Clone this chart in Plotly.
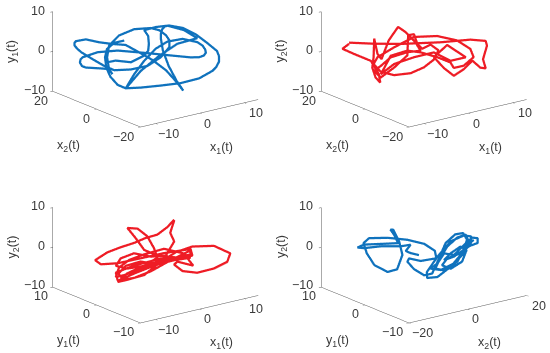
import plotly.graph_objects as go

# top left: x1, x2, y1
a_x1 = [-5.2, -6.7, -7.8, -8.1, -7.9, -7.3, -6.2, -5.0, -3.7, -0.7, 2.3, 5.1, 7.1, 7.7, 8.1, 7.1, 6.8, 5.3, 3.6, 1.6, -0.5, -1.1, -1.5, -1.7, -0.7,
        -0.4, 0.5, 1.7, 2.7, 2.8, 1.1, -1.0, -3.0, -5.0, -6.0, -8.0, -10.0, -11.5, -11.7, -11.7, -11.3, -10.7, -9.0, -7.2, -6.7, -4.2, -1.7,
        0.3, 1.6, 1.6, 1.1, 0.1, -0.2, -2.7, -5.0, -6.5, -6.8, -6.5, -6.0, -5.6, -6.7, -9.0, -9.6, -9.9, -9.8, -9.5, -7.2, -4.2, -1.2, 2.3, 5.8, 7.1, 7.8,
        8.1, 8.0, 7.6, 6.8, 4.6, 2.3, -0.5, -2.2, -3.7, -5.0, -2.7, 0.1, 2.8, 6.8, 4.8, 2.3, 0.6, -1.2, -0.6, -0.5, -0.6, -1.2, -3.2, -5.5, -6.5]
a_x2 = [4.0, 5.5, 6.6, 6.9, 6.7, 6.1, 5.0, 3.8, -0.5, -3.5, -6.5, -9.3, -11.3, -11.9, -12.3, -14.3, -14.0, -12.5, -10.8, -8.8, -6.8, -6.2, -5.8, -5.6,
        -3.6, -3.9, -4.7, -5.9, -6.9, -4.0, -2.3, -0.3, 1.8, 3.8, 7.8, 9.8, 11.8, 13.3, 13.5, 13.5, 13.1, 12.5, 10.8, 9.0, 5.5, 3.0, 0.5,
        -1.5, -2.8, -2.8, -2.3, -1.3, 2.0, 4.5, 6.8, 8.3, 8.6, 8.3, 7.8, 10.4, 11.5, 13.8, 14.4, 14.7, 14.6, 14.3, 12.0, 9.0, 3.0, -0.5, -4.0, -5.3, -6.0,
        -6.3, -6.2, -5.8, -5.0, -2.8, -0.5, -0.8, 1.0, 2.5, 3.8, 1.5, -1.3, -4.0, -5.0, -3.0, -0.5, 1.3, 3.0, 2.4, 2.3, 2.4, 3.0, 5.0, 7.3, 8.3]
a_y1 = [4.2, 3.7, 2.2, 0.1, -2.5, -4.8, -6.9, -7.8, -7.0, -6.6, -6.1, -5.0, -3.2, -2.2, -0.9, 1.2, 2.5, 4.6, 6.8, 8.5, 9.2, 9.0, 8.3, 7.2, 5.2, 2.2,
        -1.7, -5.5, -8.0, -6.7, -3.5, -0.8, 1.2, 3.1, 2.7, 3.2, 4.0, 3.6, 3.2, 2.5, 1.7, 0.8, -1.0, -2.8, -3.2, -3.1, -2.3, -0.2, 2.3, 4.0,
        5.3, 6.6, 6.5, 6.3, 4.8, 2.3, -0.6, -3.6, -4.9, -4.3, -4.1, -3.8, -3.4, -2.5, -1.7, -1.2, 0.0, 0.3, 0.3, -0.4, -1.1, -1.1, -0.7, 0.0, 0.8, 1.8, 2.7,
        3.6, 3.0, 2.0, -1.0, -4.3, -7.9, -3.5, 0.2, 3.1, 3.7, 5.8, 7.0, 6.7, 6.0, 4.5, 2.5, 0.8, -0.4, -2.0, -1.5, -1.8]

# top right: x1, x2, y2
b_x1 = [-10.8, -11.8, -10.0, -7.5, -6.3, -6.1, -6.8, -7.3, -7.1, -8.0, -7.5, -6.9, -5.8, -4.4, -3.3, -1.8, -1.0, -3.0, -5.5,
        -7.0, -9.0, -8.0, -6.0, -4.0, -3.9, -3.0, -2.5, -1.8, -0.5, 0.7, 1.0, -0.5, -2.5, -5.0, -7.0, -8.1, -7.5, -5.0, -2.0,
        1.5, 3.5, 5.5, 6.0, 4.5, 3.0, 2.5, 0.5, -2.0, -4.0, -6.5, -7.0, -5.0, -2.0, 1.0, 3.5, 5.8, 3.0, 1.0, 3.5, 5.0, 6.5,
        7.8, 9.0, 9.8, 9.4, 10.0, 9.8, 7.5, 3.0, -3.0, -7.0, -10.8]
b_x2 = [12.6, 13.6, 11.8, 9.3, 8.1, 7.9, 8.6, 9.1, 8.9, 6.8, 6.3, 5.7, 4.6, 3.2, 2.1, 0.6, -0.2, 1.8, 4.3, 5.8, 4.8, 3.8, 1.8,
        -0.2, -0.4, -1.2, -1.7, -2.5, -3.7, -4.9, -2.2, -0.7, 1.3, 3.8, 5.8, 6.9, 6.3, 3.8, 0.8, -2.7, -7.7, -9.7, -10.2, -8.7,
        -7.2, -6.7, -4.7, -2.2, -0.2, 2.3, 5.8, 3.8, 0.8, -2.2, -4.7, -7.0, -4.2, -2.2, -1.7, -3.2, -4.7, -6.0, -7.2, -8.0,
        -7.6, -8.2, -8.0, -5.7, -1.2, 4.8, 8.8, 12.6]
b_y2 = [2.9, 1.7, 0.3, -1.5, -4.9, -7.0, -5.7, -3.2, -0.6, 4.8, 0.9, -0.4, 4.3, 7.6, 6.3, 3.7, 1.5, 1.2, 0.0, -2.1, -2.6, -4.3,
        -1.9, 1.1, 6.2, 6.4, 4.0, 2.7, 3.7, 2.2, -0.8, -2.7, -4.1, -4.5, -3.6, -1.6, 0.1, 2.5, 5.0, 5.1, 4.6, 2.4, 0.3, -1.8,
        -2.3, -0.9, 0.5, 1.8, 2.3, 1.1, -4.2, -1.7, -0.1, 1.0, -1.2, -0.4, 2.8, -0.2, -3.7, -5.7, -4.1, -2.0, -3.8, -4.0, -1.7,
        1.7, 2.9, 3.3, 2.8, 2.6, 2.8, 3.2]

# bottom left: x1, y1, y2
c_x1 = [2.3, 1.3, -0.2, -2.0, -3.7, -5.7, -7.7, -8.6, -7.7, -5.2, -1.7, 1.8, 4.8, 5.1, 2.3, -1.7, -4.7, -6.2, -5.0, -2.2, -0.7,
        1.6, 4.1, 7.3, 9.8, 9.3, 7.3, 4.8, 2.6, 1.3, 2.8, 5.2, 4.3, 0.3, -3.7, -6.5, -6.2, -3.7, -1.2, 1.3, 5.6, 5.9, 3.8, 0.8,
        -1.2, -2.5, -3.7, -2.2, -0.7, 0.3, -0.2, -2.2, -4.7, -6.5, -5.7, -3.7, -1.2, 1.3,
        -1.2, -3.7, -5.5, -6.1, -5.0, -2.7, -0.2, 2.3, 4.8, 3.6, 0.8, -2.2, -4.5, -6.0, -6.5, -5.2, -2.2, 0.8,
        2.3, 1.7, 2.3]
c_y1 = [-1.8, -1.3, -0.5, 0.4, 1.3, 2.3, 3.3, 5.2, 4.8, 3.5, 1.8, 0.0, -3.0, -3.1, -1.8, 0.3, 1.8, 2.5, 1.9, 0.5, -1.8, -2.9, -4.1,
        -5.8, -7.0, -6.8, -5.8, -4.5, -3.4, -2.8, -2.0, -3.2, -2.8, -0.8, 1.3, 2.6, 2.5, 1.3, 0.0, -1.3, -1.9, -2.1, -1.0, 0.5,
        1.5, 2.1, 2.8, 2.0, 1.3, 0.8, -0.5, 0.5, 1.8, 2.6, 2.3, 1.3, 0.0, -1.3,
        0.0, 1.3, 2.1, 2.4, 1.9, 0.8, -0.5, -1.8, -3.0, -2.4, -1.0, 0.5, 1.6, 2.4, 2.6, 2.0, 0.5, -1.0,
        -1.8, -1.5, -1.8]
c_y2 = [8.2, 6.4, 4.5, 3.7, 2.5, 1.5, 0.3, -2.3, -3.4, -3.2, -2.1, -0.9, 0.7, -1.0, -1.6, -2.9, -5.1, -7.2, -6.8, -5.6, -1.6, 0.7,
        2.0, 2.1, 0.1, -2.0, -3.6, -4.6, -4.1, -2.4, -2.4, -3.5, -1.6, -1.5, -3.2, -4.8, -6.8, -6.3, -4.7, -2.4, -0.5, -1.3, -2.1,
        -1.5, 0.0, 3.0, 5.6, 5.4, 3.4, 0.4, -1.3, -3.3, -3.9, -3.1, -1.3, -0.1, -1.0, -0.8,
        -3.6, -5.2, -6.4, -5.1, -3.2, -2.2, -3.0, -2.0, -1.5, -0.3, 0.9, -0.4, -1.7, -3.6, -5.9, -5.5, -3.8, -1.5,
        2.7, 4.9, 8.0]

# bottom right: x2, y1, y2
d_x2 = [-1.7, -3.5, -4.7, -3.5, -5.8, -10.3, -14.1, -15.6, -14.1, -9.6, -6.4, -5.8, -6.6, -6.0, -4.7, -3.9, -5.1, -7.3, -10.3,
        -12.0, -12.8, -11.5, -8.8, -4.3, -0.5, 1.9, 2.3, -1.3, -3.9, -4.3, -4.3, -2.0, -0.2, 1.0, 2.9, 5.1, 6.9, 7.8, 6.7, 4.0,
        1.0, -1.3, -1.4, 1.0, 5.5, 8.5, 10.2, 10.1, 7.8, 4.8, 3.6, 5.5, 8.2, 9.1, 7.8, 5.5, 5.5, 7.8, 11.2, 13.2, 13.2, 11.9,
        10.1, 7.8, 5.5, 4.0, 2.5, 4.8, 7.8, 10.0, 11.2, 10.4, 8.5, 6.3, 4.4, 3.6, 5.5, 8.5, 10.4, 12.3]
d_y1 = [0.0, 0.7, 1.0, 0.7, 1.4, 2.9, 4.2, 4.7, 4.2, 2.7, 1.6, 2.9, 3.2, 3.0, 2.5, 2.3, 2.7, 3.4, 4.4, 5.0, 5.2, 4.8, 2.4, 0.9,
        -0.4, -1.2, -1.3, -0.1, 0.8, 0.9, -0.6, -1.4, -2.0, -2.4, -3.0, -3.7, -4.3, -4.6, -4.2, -3.4, -2.4, -1.6, -1.6, -2.4,
        -2.4, -3.4, -3.9, -3.9, -3.1, -2.1, -1.7, -2.4, -3.2, -3.6, -3.1, -2.4, -0.9, -1.6, -2.7, -3.4, -3.4, -3.0, -2.4, -1.6,
        -0.9, -0.4, 0.2, -0.6, -1.6, -2.4, -2.7, -2.5, -1.9, -1.1, -0.5, -0.2, -0.9, -1.9, -2.5, -3.1]
d_y2 = [-0.6, -0.1, 0.5, 2.0, 1.7, 1.8, 1.4, 1.6, 2.3, 2.4, 2.5, 3.9, 5.2, 5.2, 2.2, -1.2, -4.8, -5.4, -3.6, -0.6, 2.0, 3.2, 3.9,
        3.3, 2.2, 0.4, -1.5, -2.1, -1.4, -2.2, -3.4, -5.0, -4.6, -1.7, 3.0, 5.1, 5.4, 3.7, 0.3, -3.0, -5.5, -5.7, -4.2, -0.4, 2.7,
        4.1, 3.8, 1.7, -0.4, -1.6, -3.3, -4.2, -2.5, 0.4, 1.3, -0.3, -2.7, -1.9, 0.6, 1.4, 2.6, 2.8, 1.0, -1.5, -1.0, -3.5, -4.8,
        -5.2, -3.6, -1.1, 1.8, 3.6, 2.9, 0.7, -2.7, -4.8, -5.3, -3.2, 0.6, 2.2]

blue = "#0f72bd"
red = "#ee1c25"
grey = "#555555"
txt = "#3a3a3a"

# camera direction, taken from the axis slopes
view = (-0.574, -0.758, 0.309)
dist = 2.0
right = (0.797, -0.604)
px_per_unit = 88.8


def axis(rng, vals):
    return dict(range=rng, tickvals=vals, ticktext=["" for v in vals], title=dict(text=""),
                showgrid=False, zeroline=False, showbackground=False, showspikes=False,
                showline=True, linecolor=grey, linewidth=1, ticks="outside", ticklen=3,
                tickcolor=grey, showticklabels=False)


def label(x, y, z, text, dx, dy, anchor="center", angle=0):
    return dict(x=x, y=y, z=z, text=text, showarrow=False, xshift=dx, yshift=dy, xanchor=anchor, yanchor="middle",
                textangle=angle, font=dict(family="Liberation Sans", size=12.5, color=txt))


def fmt(v):
    return str(v).replace("-", "\u2212")


panels = [
    dict(xs=a_x1, ys=a_x2, zs=a_y1, color=blue, xr=[-13.4, 13.1], yr=[-20, 20], xt=[-10, 0, 10], yt=[-20, 0, 20],
         xl="x<sub>1</sub>(t)", yl="x<sub>2</sub>(t)", zl="y<sub>1</sub>(t)", dom=([0, 0.5], [0.5, 1]), sx=18, sy=33),
    dict(xs=b_x1, ys=b_x2, zs=b_y2, color=red, xr=[-13.4, 13.1], yr=[-20, 20], xt=[-10, 0, 10], yt=[-20, 0, 20],
         xl="x<sub>1</sub>(t)", yl="x<sub>2</sub>(t)", zl="y<sub>2</sub>(t)", dom=([0.5, 1], [0.5, 1]), sx=11.5, sy=33),
    dict(xs=c_x1, ys=c_y1, zs=c_y2, color=red, xr=[-13.4, 13.1], yr=[-10, 10], xt=[-10, 0, 10], yt=[-10, 0, 10],
         xl="x<sub>1</sub>(t)", yl="y<sub>1</sub>(t)", zl="y<sub>2</sub>(t)", dom=([0, 0.5], [0, 0.5]), sx=18, sy=14),
    dict(xs=d_x2, ys=d_y1, zs=d_y2, color=blue, xr=[-20, 20], yr=[-10, 10], xt=[-20, 0, 20], yt=[-10, 0, 10],
         xl="x<sub>2</sub>(t)", yl="y<sub>1</sub>(t)", zl="y<sub>2</sub>(t)", dom=([0.5, 1], [0, 0.5]), sx=11.5, sy=14),
]

fig = go.Figure()
for i, p in enumerate(panels):
    name = "scene" if i == 0 else f"scene{i + 1}"
    fig.add_trace(go.Scatter3d(x=p["xs"], y=p["ys"], z=p["zs"], mode="lines", line=dict(color=p["color"], width=4.5),
                               scene=name, showlegend=False, hoverinfo="skip"))
    xmin, xmax = p["xr"]
    ymin, ymax = p["yr"]
    notes = []
    for v, dx, dy in zip([-10, 0, 10], [-6, -6, -6], [1, 1, 1]):
        notes.append(label(xmin, ymax, v, fmt(v), dx, dy, anchor="right"))
    for v, dx in zip(p["yt"], [-17, -10, -12]):
        notes.append(label(xmin, v, -10, fmt(v), dx, -10))
    for v, dx in zip(p["xt"], [13, 8, 12]):
        notes.append(label(v, ymin, -10, fmt(v), dx, -11))
    notes.append(label(p["xt"][1], ymin, -10, p["xl"], 22, -35))
    notes.append(label(xmin, p["yt"][1], -10, p["yl"], -28, -37))
    notes.append(label(xmin, ymax, 0, p["zl"], -40, 0, angle=-90))
    # shift the view so the box sits where it does in the figure
    cx = -p["sx"] / px_per_unit * right[0]
    cy = -p["sx"] / px_per_unit * right[1]
    cz = -p["sy"] / (px_per_unit * 0.951)
    fig.update_layout({name: dict(domain=dict(x=p["dom"][0], y=p["dom"][1]), xaxis=axis(p["xr"], p["xt"]),
                                  yaxis=axis(p["yr"], p["yt"]), zaxis=axis([-10, 10], [-10, 0, 10]),
                                  aspectmode="manual", aspectratio=dict(x=1.667, y=1.642, z=0.945), annotations=notes,
                                  camera=dict(center=dict(x=cx, y=cy, z=cz),
                                              eye=dict(x=cx + view[0] * dist, y=cy + view[1] * dist, z=cz + view[2] * dist),
                                              projection=dict(type="orthographic")))})

fig.update_layout(width=550, height=353, margin=dict(l=0, r=0, t=0, b=0), paper_bgcolor="white")
fig.write_html("out.html", config=dict(displayModeBar=False),
               post_script="document.body.style.margin='0';document.body.style.overflow='hidden';")
